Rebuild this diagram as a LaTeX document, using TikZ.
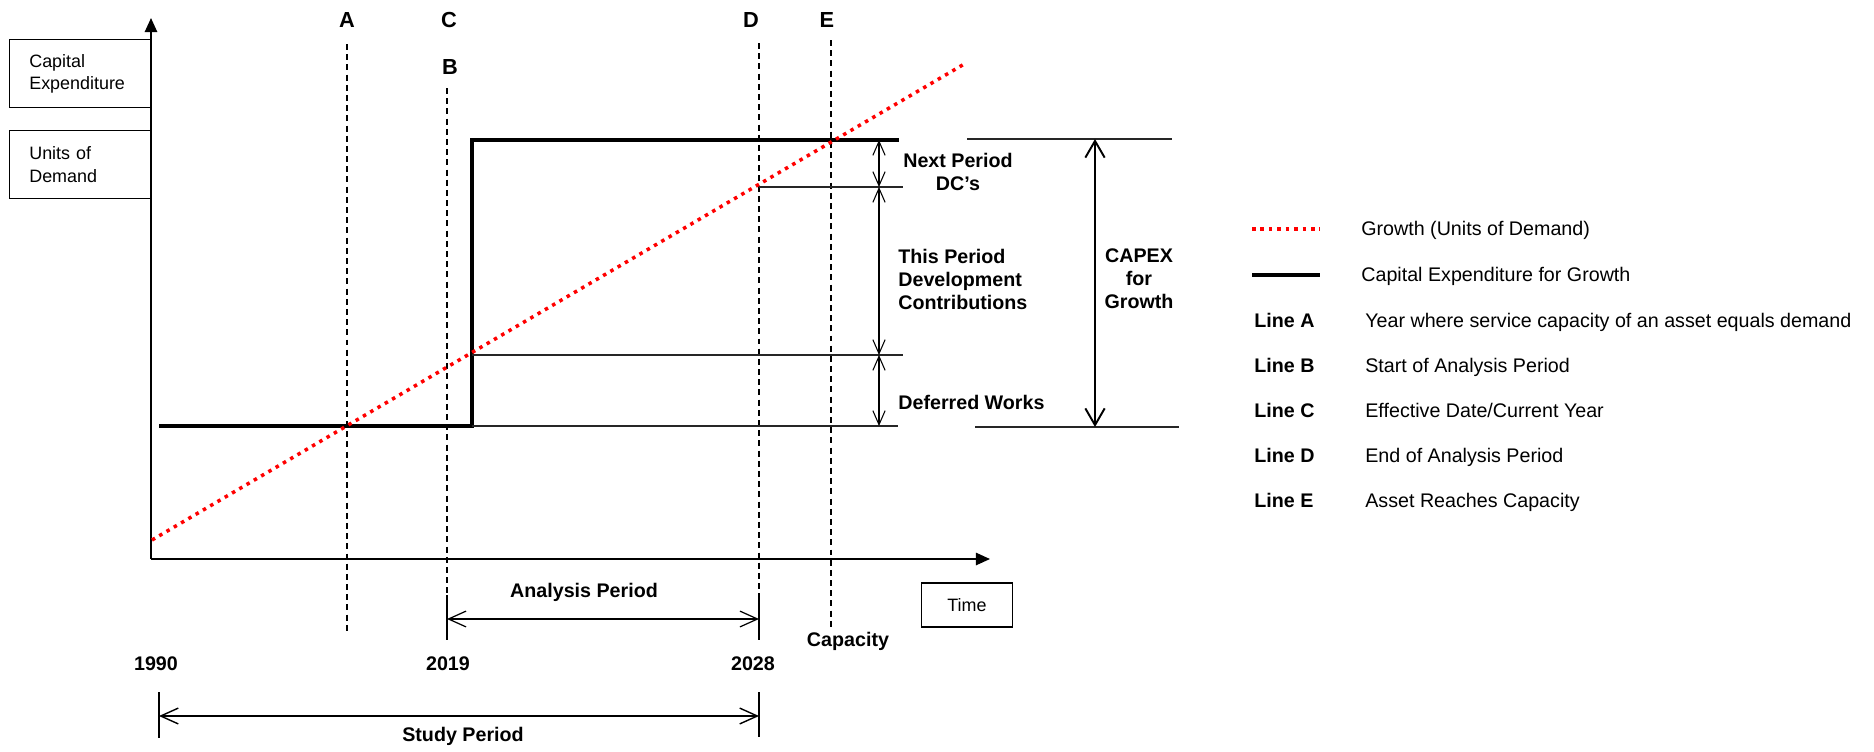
\documentclass[tikz,border=0pt]{standalone}
\usepackage{fontspec}
\setmainfont{Liberation Sans}
\usetikzlibrary{arrows.meta,positioning,calc}

\begin{document}
\begin{tikzpicture}[
    x=0.02cm, y=-0.02cm,
    every node/.style={font=\fontsize{11.2}{13.1}\selectfont, inner sep=0pt},
    lbl/.style={font=\fontsize{11.2}{13.1}\selectfont\bfseries, align=#1},
    lbl/.default=center,
    letter/.style={font=\fontsize{12.4}{14}\selectfont\bfseries},
    axbox/.style={draw, line width=0.8pt, font=\fontsize{10.2}{12.9}\selectfont, inner sep=0pt},
    axis/.style={line width=1pt, -{Triangle[length=8pt, width=7pt]}},
    capex/.style={line width=1.8pt},
    growth/.style={red, line width=2pt, dash pattern=on 2pt off 2.8pt},
    guide/.style={line width=0.8pt, dash pattern=on 3.4pt off 2.4pt},
    tickline/.style={line width=0.8pt},
    ext/.style={line width=0.6pt, black!85},
    dim/.style={line width=0.6pt, {Straight Barb[length=8pt, width=7pt]}-{Straight Barb[length=8pt, width=7pt]}},
    bigdim/.style={line width=1.1pt, {Straight Barb[length=9.5pt, width=11pt]}-{Straight Barb[length=9.5pt, width=11pt]}},
    periodarr/.style={line width=0.7pt, {Straight Barb[length=10pt, width=9pt]}-{Straight Barb[length=10pt, width=9pt]}},
]
\useasboundingbox (0,0) rectangle (1874,751);

% --- Axes and axis boxes --------------------------------------------
\coordinate (origin) at (151,559);
\coordinate (ytop)   at (151,18);
\coordinate (xend)   at (990,559);
\draw[axis] (origin) -- (ytop);
\draw[axis] (origin) -- (xend);

\node[axbox, anchor=north east, minimum width=2.82cm, minimum height=1.36cm,
      text width=2.02cm, inner xsep=0.4cm, align=left] (capbox)  at (151,39)  {Capital\\Expenditure};
\node[axbox, anchor=north east, minimum width=2.82cm, minimum height=1.36cm,
      text width=2.02cm, inner xsep=0.4cm, align=left] (unitbox) at (151,130) {Units of\\Demand};
\node[axbox, minimum width=1.82cm, minimum height=0.88cm] (timebox) at (967,605) {Time};

% --- Guide lines A to E ---------------------------------------------
\foreach \n/\x/\top/\bot in {A/347/44/632, B/447/88/595, D/759/43/595, E/831/40/628} {
  \coordinate (\n-top) at (\x,\top);
  \coordinate (\n-bot) at (\x,\bot);
  \draw[guide] (\n-top) -- (\n-bot);
}
\node[letter] (labA) at (347,20) {A};
\node[letter] (labC) at (449,20) {C};
\node[letter] (labB) at (450,67) {B};
\node[letter] (labD) at (751,20) {D};
\node[letter] (labE) at (827,20) {E};

% --- Capital expenditure step and growth line -----------------------
\coordinate (lowstart) at (159,426);
\coordinate (stepfoot) at (472,426);
\coordinate (stephead) at (472,140);
\coordinate (highend)  at (899,140);
\draw[capex] (lowstart) -- (stepfoot) -- (stephead) -- (highend);

\coordinate (growstart) at (152,540);
\coordinate (growend)   at (966,63);
\draw[growth] (growstart) -- (growend);

% --- Extension lines ------------------------------------------------
\coordinate (dimx) at (879,0);
\coordinate (lvl1) at (0,140);
\coordinate (lvl2) at (0,187);
\coordinate (lvl3) at (0,355);
\coordinate (lvl4) at (0,426);
\draw[ext] (stepfoot) -- (898,426);
\draw[ext] (472,355) -- (903,355);
\draw[ext] (759,187) -- (903,187);
\draw[ext] (967,139) -- (1172,139);
\draw[ext] (975,427) -- (1179,427);

% --- Dimension arrows -----------------------------------------------
\draw[dim] (dimx |- lvl1) -- (dimx |- lvl2);
\draw[dim] (dimx |- lvl2) -- (dimx |- lvl3);
\draw[dim] (dimx |- lvl3) -- (dimx |- lvl4);
\draw[bigdim] (1095,139) -- (1095,427);

\node[lbl] (nextlbl) at (958,172) {Next Period\\DC’s};
\node[lbl=left, anchor=west] (thislbl) at (898,279) {This Period\\Development\\Contributions};
\node[lbl, anchor=west] (deflbl) at (898,402) {Deferred Works};
\node[lbl] (capexlbl) at (1139,279) {CAPEX\\for\\Growth};

% --- Periods below the time axis ------------------------------------
\coordinate (anaL) at (447,619);
\coordinate (anaR) at (759,619);
\draw[tickline] (B-bot) -- (447,640);
\draw[tickline] (D-bot) -- (759,640);
\draw[periodarr] (anaL) -- (anaR);
\node[lbl] (analysislbl) at (584,592) {Analysis Period};
\node[lbl] (caplbl) at (848,641) {Capacity};

\node[lbl] (y1990) at (156,664) {1990};
\node[lbl] (y2019) at (448,664) {2019};
\node[lbl] (y2028) at (753,664) {2028};

\coordinate (stuL) at (159,716);
\coordinate (stuR) at (759,716);
\draw[tickline] (159,692) -- (159,738);
\draw[tickline] (759,692) -- (759,737);
\draw[periodarr, line width=0.8pt] (stuL) -- (stuR);
\node[lbl] (studylbl) at (463,736) {Study Period};

% --- Legend ---------------------------------------------------------
\draw[growth] (1252,229) -- (1320,229);
\node[anchor=base west] (leggrowth) at (1361,235) {Growth (Units of Demand)};
\draw[capex] (1252,275) -- (1320,275);
\node[anchor=base west] (legcapex) at (1361,281) {Capital Expenditure for Growth};
\foreach \l/\t [count=\i from 0] in {A/{Year where service capacity of an asset equals demand},
    B/{Start of Analysis Period}, C/{Effective Date/Current Year},
    D/{End of Analysis Period}, E/{Asset Reaches Capacity}} {
  \node[lbl, anchor=base west] (leg\l) at (1254,327+45*\i) {Line \l};
  \node[anchor=base west] (legtxt\l) at (1365,327+45*\i) {\t};
}
\end{tikzpicture}
\end{document}
